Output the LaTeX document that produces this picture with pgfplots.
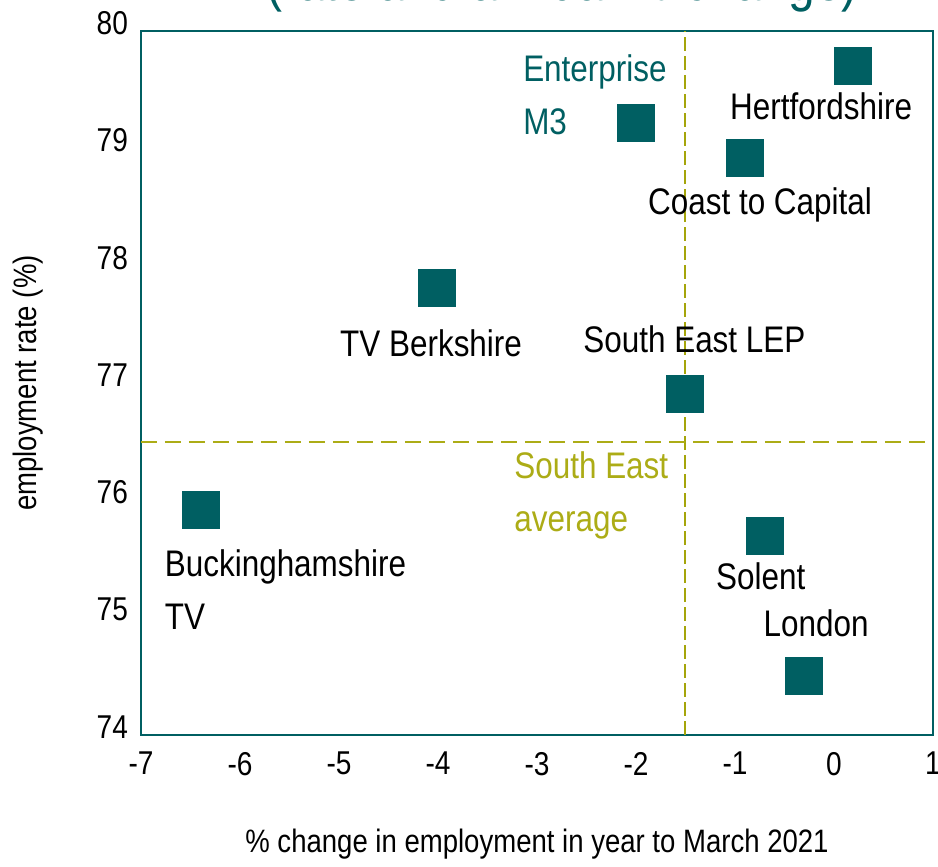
\documentclass[border=0pt]{standalone}
\usepackage{pgfplots}
\pgfplotsset{compat=1.18}
\usepackage{fontspec}
\setmainfont{Liberation Sans}[FakeStretch=0.85]
\definecolor{tealc}{RGB}{0,95,98}
\definecolor{olivec}{RGB}{172,172,22}
\definecolor{olived}{RGB}{165,165,10}
\newcommand{\lab}{\fontsize{18.5}{26.5}\selectfont}
\begin{document}
\begin{tikzpicture}
\useasboundingbox (-70.5pt,-66pt) rectangle (398.5pt,367.5pt);
\begin{axis}[
  at={(0,0)}, anchor=south west, scale only axis,
  width=396pt, height=352pt,
  xmin=-7, xmax=1, ymin=74, ymax=80,
  xtick={-7,-6,-5,-4,-3,-2,-1,0,1},
  ytick={74,75,76,77,78,79,80},
  major tick length=0pt,
  axis line style={tealc, line width=1pt},
  /pgf/number format/assume math mode=true,
  tick label style={font=\fontsize{16.5}{19}\selectfont},
  xticklabel style={yshift=-5pt},
  yticklabel style={yshift=4pt, xshift=-3pt},
  xlabel={\% change in employment in year to March 2021},
  ylabel={employment rate (\%)},
  label style={font=\fontsize{16.2}{19}\selectfont},
  xlabel style={at={(axis description cs:0.5,0)}, anchor=base, yshift=-59pt},
  ylabel style={at={(axis description cs:0,0.5)}, anchor=base, yshift=52pt},
  clip=false,
]
\addplot[draw=olived, line width=1pt, dash pattern=on 7pt off 2.5pt] coordinates {(-1.5,74) (-1.5,80)};
\addplot[draw=olivec, line width=1pt, dash pattern=on 8pt off 4pt] coordinates {(-7,76.5) (1,76.5)};
\addplot[only marks, mark=square*, mark size=9.25pt,
  mark options={fill=tealc, draw=tealc, rounded corners=1.2pt}]
  coordinates {
  (0.19,79.70)
  (-2.00,79.22)
  (-0.90,78.92)
  (-4.01,77.81)
  (-1.51,76.91)
  (-6.39,75.92)
  (-0.70,75.70)
  (-0.30,74.50)
  };
\node[font=\lab, text=tealc, align=left, anchor=west] at (axis cs:-3.21,79.455) {Enterprise\\M3};
\node[font=\lab] at (axis cs:-0.13,79.36) {Hertfordshire};
\node[font=\lab] at (axis cs:-0.747,78.52) {Coast to Capital};
\node[font=\lab] at (axis cs:-4.07,77.34) {TV Berkshire};
\node[font=\lab] at (axis cs:-1.41,77.37) {South East LEP};
\node[font=\lab, text=olivec, align=left, anchor=west] at (axis cs:-3.30,76.04) {South East\\average};
\node[font=\lab, align=left, anchor=west] at (axis cs:-6.83,75.24) {Buckinghamshire\\TV};
\node[font=\lab] at (axis cs:-0.74,75.35) {Solent};
\node[font=\lab] at (axis cs:-0.18,74.95) {London};
\end{axis}
\node[font=\fontsize{28.2}{32}\selectfont, text=tealc, anchor=base] at (210.5pt,367pt) {(rate and annual \% change)};
\end{tikzpicture}
\end{document}
